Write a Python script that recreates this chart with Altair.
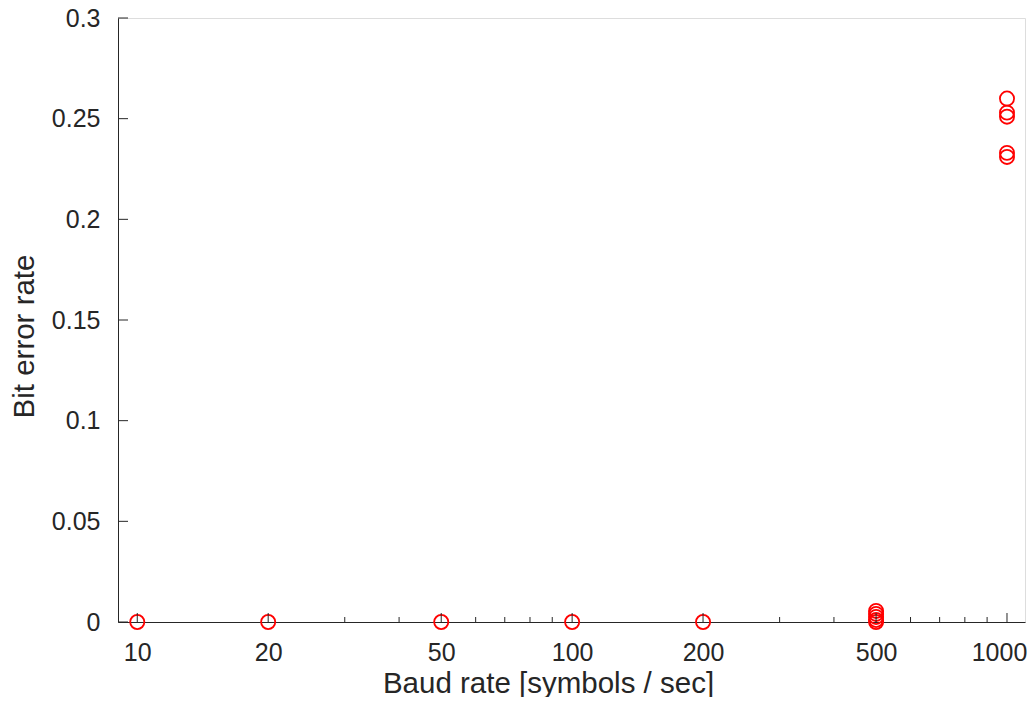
import altair as alt
import pandas as pd

# data
baud = [10, 20, 50, 100, 200,
        500, 500, 500, 500, 500,
        1000, 1000, 1000, 1000, 1000]
ber = [0, 0, 0, 0, 0,
       0.0055, 0.004, 0.0025, 0.001, 0,
       0.26, 0.253, 0.251, 0.233, 0.231]

major_x = [10, 20, 50, 100, 200, 500, 1000]
minor_x = [30, 40, 60, 70, 80, 90, 300, 400, 600, 700, 800, 900]
major_y = [0, 0.05, 0.1, 0.15, 0.2, 0.25, 0.3]

FONT = "Liberation Sans"
INK = "#262626"
W, H = 907, 604

pts = pd.DataFrame({"baud": baud, "ber": ber})
mx = pd.DataFrame({"t": major_x})
mn = pd.DataFrame({"t": minor_x})
my = pd.DataFrame({"v": major_y})

xscale = alt.Scale(type="log", domain=[9.03, 1100], nice=False, zero=False)
yscale = alt.Scale(domain=[0, 0.3], nice=False, zero=True)

xaxis = alt.Axis(values=major_x, format="d", ticks=False, tickSize=0, grid=False,
                 labelFontSize=25, labelPadding=18, labelColor=INK, labelFont=FONT,
                 labelOffset={"condition": {"test": "datum.value == 1000", "value": -8},
                              "value": 0},
                 domainColor=INK, domainWidth=1,
                 title="Baud rate [symbols / sec]", titleFont=FONT, titleFontSize=29.5,
                 titleFontWeight="normal", titleColor=INK,
                 titleX=430, titleY=70, titleBaseline="alphabetic", titleAnchor="start",
                 titleAlign="center")
yaxis = alt.Axis(values=major_y, format="~g", ticks=False, tickSize=0, grid=False,
                 labelFontSize=25, labelPadding=18, labelColor=INK, labelFont=FONT,
                 domainColor=INK, domainWidth=1,
                 title="Bit error rate", titleFont=FONT, titleFontSize=29.5,
                 titleFontWeight="normal", titleColor=INK,
                 titleX=-85, titleY=318, titleAngle=270, titleBaseline="alphabetic",
                 titleAlign="center", titleAnchor="start")

points = alt.Chart(pts).mark_point(shape="circle", filled=False, color="#ff0000",
                                   size=200, strokeWidth=1.8, opacity=1).encode(
    x=alt.X("baud:Q", scale=xscale, axis=xaxis),
    y=alt.Y("ber:Q", scale=yscale, axis=yaxis),
)

major_ticks = alt.Chart(mx).mark_rule(color=INK, strokeWidth=1).encode(
    x=alt.X("t:Q", scale=xscale, axis=xaxis),
    y=alt.value(H), y2=alt.value(H - 9),
)
minor_ticks = alt.Chart(mn).mark_rule(color=INK, strokeWidth=1).encode(
    x=alt.X("t:Q", scale=xscale, axis=xaxis),
    y=alt.value(H), y2=alt.value(H - 5),
)
y_ticks = alt.Chart(my).mark_rule(color=INK, strokeWidth=1).encode(
    y=alt.Y("v:Q", scale=yscale, axis=yaxis),
    x=alt.value(0), x2=alt.value(10),
)

chart = alt.layer(points, major_ticks, minor_ticks, y_ticks).properties(
    width=W, height=H,
    autosize=alt.AutoSizeParams(type="none"),
    padding={"left": 110, "top": 10, "right": 2, "bottom": 75},
).configure_view(strokeWidth=0).configure(background="white")

chart.save("out.html", embed_options={"renderer": "svg", "actions": False})
